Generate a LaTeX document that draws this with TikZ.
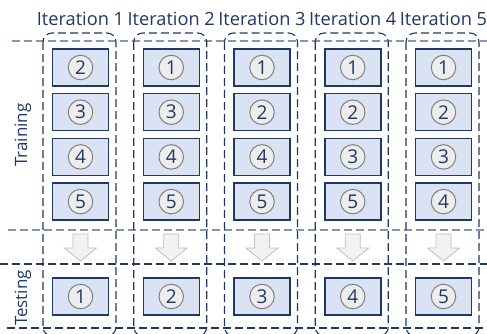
\documentclass[tikz,border=0pt]{standalone}
\usepackage{fontspec}
\setmainfont{Open Sans}
\definecolor{navy}{HTML}{203864}
\definecolor{cellfill}{HTML}{DAE3F3}
\definecolor{softline}{HTML}{8497B0}
\definecolor{discfill}{HTML}{EDEDED}
\definecolor{discline}{HTML}{808080}
\definecolor{arrfill}{HTML}{F2F2F2}
\definecolor{arrline}{HTML}{BFBFBF}
\begin{document}
\begin{tikzpicture}[x=1pt,y=-1pt,
  dashline/.style={dash pattern=on 8pt off 4pt, line width=1.1pt},
  softrule/.style={dashline, softline},
  hardrule/.style={dashline, navy},
  foldframe/.style={dashline, navy, rounded corners=9pt},
  cell/.style={draw=navy, fill=cellfill, line width=1.5pt, minimum width=56pt, minimum height=37pt, inner sep=0pt},
  disc/.style={circle, draw=discline, fill=discfill, line width=1pt, minimum size=24.5pt, inner sep=0pt, text=navy, font=\fontsize{19}{20}\selectfont},
  blockarrow/.style={fill=arrfill, draw=arrline, line width=0.8pt},
  heading/.style={text=navy, font=\fontsize{18.2}{21}\selectfont},
  sidelabel/.style={text=navy, font=\fontsize{17}{20}\selectfont, rotate=90}
]
\useasboundingbox (0,0) rectangle (487,334);
\clip (0,0) rectangle (487,334);

% horizontal separators
\draw[softrule] (12,41) -- (487,41);
\draw[softrule] (8,230) -- (487,230);
\draw[hardrule] (0,264) -- (487,264);
\draw[hardrule] (7,328) -- (487,328);

% side labels
\node[sidelabel] (train) at (23,135) {Training};
\node[sidelabel] (test) at (23,298) {Testing};

% one column per fold: training folds, arrow, test fold
\foreach \c/\a/\b/\d/\e/\t in {1/2/3/4/5/1, 2/1/3/4/5/2, 3/1/2/4/5/3, 4/1/2/3/5/4, 5/1/2/3/4/5} {
  \pgfmathsetmacro{\bx}{52+90.75*(\c-1)}
  \pgfmathsetmacro{\cx}{\bx+28.5}
  \draw[foldframe] (\bx-9,33) rectangle (\bx+64,336);
  \node[heading] (it\c) at (\cx,19) {Iteration \c};
  \foreach \n [count=\r from 0] in {\a,\b,\d,\e} {
    \node[cell] (b\c-\r) at (\cx,{67.5+44.7*\r}) {};
    \node[disc] (d\c-\r) at (b\c-\r.center) {\n};
  }
  \draw[blockarrow] (\cx-7.5,234) -- (\cx+7.5,234) -- (\cx+7.5,248) -- (\cx+16,248)
    -- (\cx,261) -- (\cx-16,248) -- (\cx-7.5,248) -- cycle;
  \node[cell] (t\c) at (\cx,296.5) {};
  \node[disc] (td\c) at (t\c.center) {\t};
}
\end{tikzpicture}
\end{document}
